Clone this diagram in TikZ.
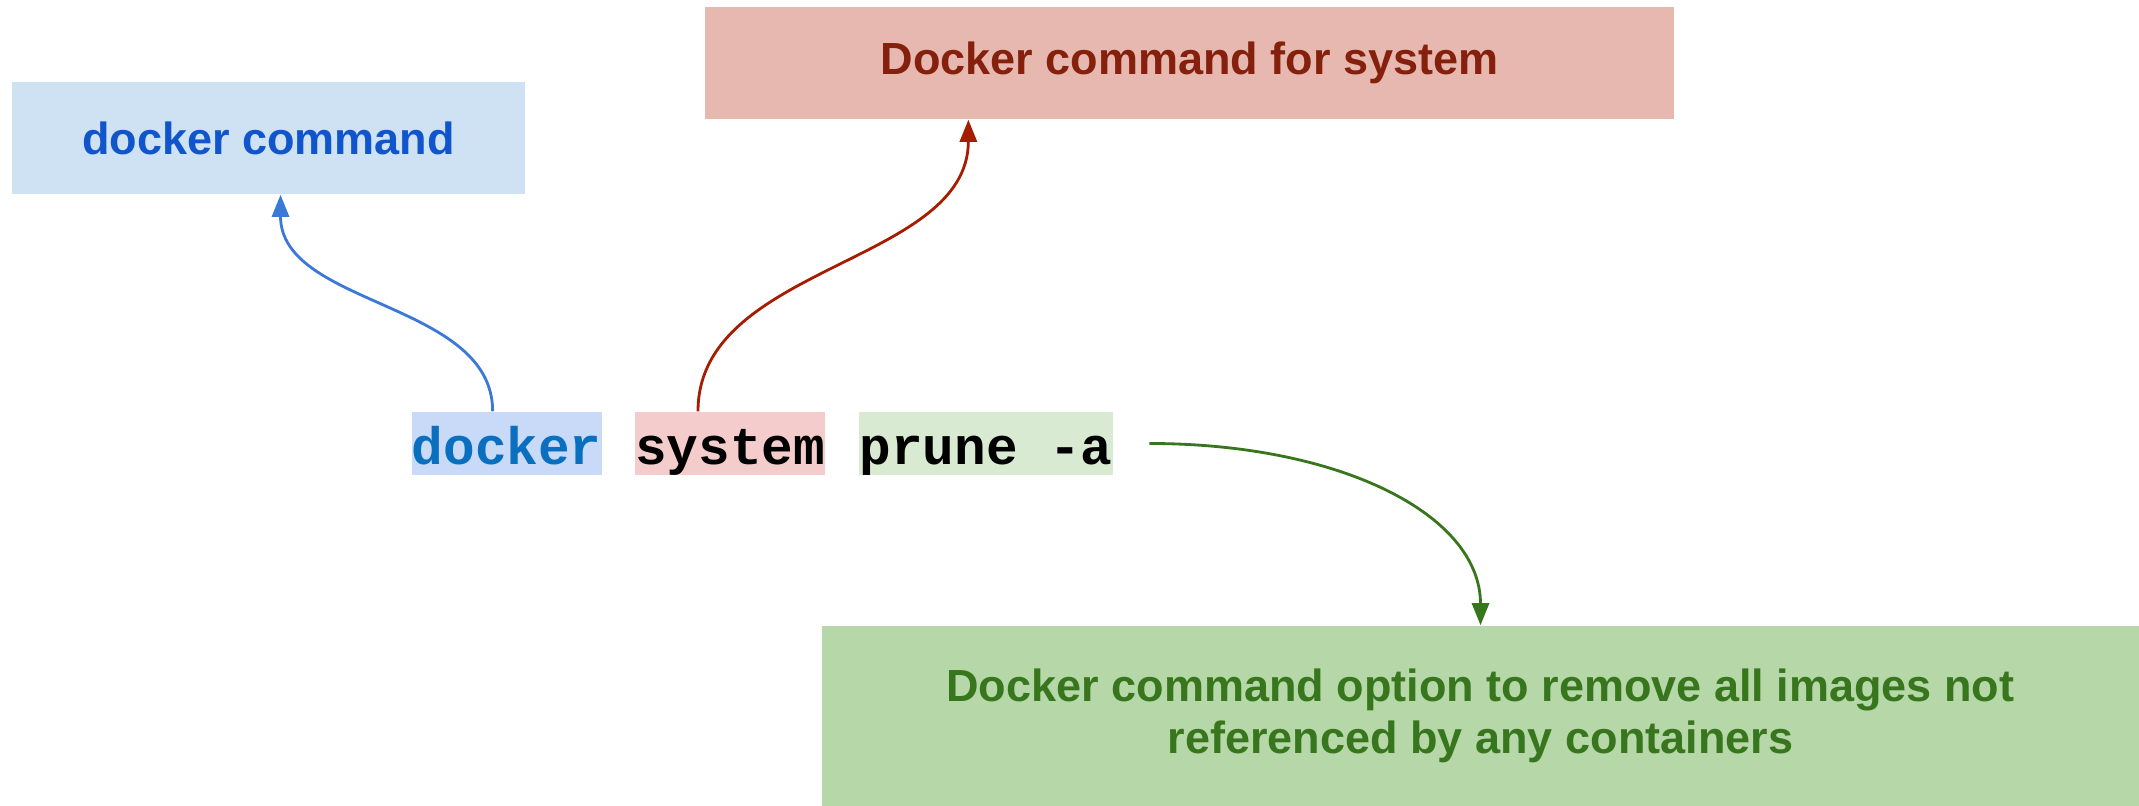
\documentclass[tikz,border=0pt]{standalone}
\usepackage{fontspec}
\setmainfont{Liberation Sans}
\setmonofont{Liberation Mono}
\usepackage{tikz}
\usetikzlibrary{arrows.meta, positioning}
\usepackage{xcolor}

\definecolor{cmdfill}{HTML}{CFE2F3}
\definecolor{cmdtext}{HTML}{1155CC}
\definecolor{sysfill}{HTML}{E6B8AF}
\definecolor{systext}{HTML}{85200C}
\definecolor{optfill}{HTML}{B6D7A8}
\definecolor{opttext}{HTML}{38761D}
\definecolor{dockhl}{HTML}{C9DAF8}
\definecolor{dockword}{HTML}{0B6FBF}
\definecolor{syshl}{HTML}{F4CCCC}
\definecolor{prunehl}{HTML}{D9EAD3}
\definecolor{bluearrow}{HTML}{3C78D8}
\definecolor{redarrow}{HTML}{A61C00}
\definecolor{greenarrow}{HTML}{38761D}

\begin{document}
\begin{tikzpicture}
            [
            x=0.01cm, y=-0.01cm,
            label box/.style={
                rectangle,
                inner sep=0pt,
                align=center,
                font=\fontsize{12.8}{14.8}\selectfont\bfseries
            },
            word/.style={
                rectangle,
                inner sep=0pt,
                text height=0.52cm,
                text depth=0.11cm,
                font=\fontsize{15.0}{18}\selectfont\ttfamily\bfseries
            },
            arrow/.style={
                line width=0.8pt,
                -{Triangle[length=0.22cm, width=0.17cm]}
            }
            ]
            \useasboundingbox (0,0) rectangle (2139,806);

            % Erklaerungen als farbige Kaesten
            \node (cmdbox) [label box, fill=cmdfill, text=cmdtext,
                minimum width=5.13cm, minimum height=1.12cm] at (268.5,138) {docker command};
            \node (sysbox) [label box, fill=sysfill, text=systext,
                minimum width=9.69cm, minimum height=1.12cm] at (1189.5,63) {Docker command for system};
            \node (optbox) [label box, fill=optfill, text=opttext,
                minimum width=13.17cm, minimum height=1.80cm] at (1480.5,716)
                {Docker command option to remove all images not\\referenced by any containers};

            % Der Befehl, Wort fuer Wort hinterlegt
            \node (dock) [word, fill=dockhl, text=dockword, anchor=base west] at (411,464) {docker};
            \node (sys) [word, fill=syshl, right=0.32cm of dock] {system};
            \node (prune) [word, fill=prunehl, right=0.33cm of sys] {prune -a};

            % Pfeile vom Befehl zu den Kaesten
            \draw[arrow, bluearrow] ([xshift=-0.14cm]dock.north) .. controls +(0,-110) and +(0,112) .. ([xshift=0.12cm]cmdbox.south);
            \draw[arrow, redarrow] ([xshift=-0.32cm]sys.north) .. controls +(0,-147) and +(0,145) .. ([xshift=-2.21cm]sysbox.south);
            \draw[arrow, greenarrow] ([xshift=0.36cm]prune.east) .. controls +(190,0) and +(0,-111) .. (optbox.north);

        \end{tikzpicture}
\end{document}
